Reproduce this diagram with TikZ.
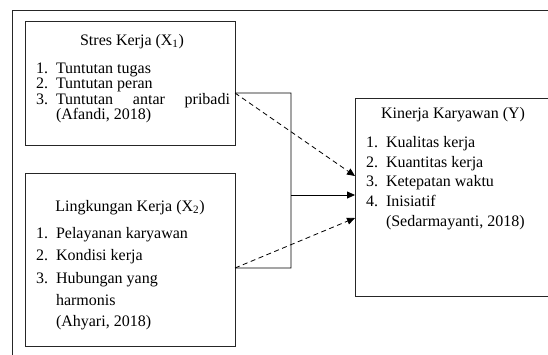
\documentclass[tikz,border=0pt]{standalone}
\usepackage{fontspec}
\setmainfont{Liberation Serif}
\usetikzlibrary{arrows.meta}
\newcommand{\myitem}[2]{\makebox[20bp][l]{#1}#2}
\begin{document}
\begin{tikzpicture}[x=1bp,y=-1bp,
  frame/.style={draw=black!85, line width=0.8bp},
  box/.style={draw=black!85, line width=0.8bp, inner sep=0, outer sep=0},
  txt/.style={inner sep=0, outer sep=0, font=\fontsize{16bp}{18bp}\selectfont, anchor=base west},
  ttl/.style={inner sep=0, outer sep=0, font=\fontsize{16bp}{18bp}\selectfont, anchor=base},
  conn/.style={line width=0.8bp, draw=black},
  arr/.style={conn, -{Triangle[length=8bp,width=7bp]}},
  dsh/.style={arr, dash pattern=on 5bp off 3.5bp}]
\useasboundingbox (0,0) rectangle (548,354);
\fill[white] (0,0) rectangle (548,354);
\draw[frame] (12,360) -- (12,10) -- (560,10);

% boxes
\node[box, minimum width=210bp, minimum height=124bp] (x1) at (130,83) {};
\node[box, minimum width=210bp, minimum height=173bp] (x2) at (130,259.5) {};
\node[box, minimum width=205bp, minimum height=198bp] (y) at (457.5,197) {};

% X1 text
\node[ttl] (x1t) at (132,45) {Stres Kerja (X\textsubscript{1})};
\node[txt] (x1a) at (36,73) {\myitem{1.}{Tuntutan tugas}};
\node[txt] (x1b) at (36,88.5) {\myitem{2.}{Tuntutan peran}};
\node[txt] (x1c) at (36,104) {\myitem{3.}{\hbox to 174bp{Tuntutan\hfill antar\hfill pribadi}}};
\node[txt] (x1d) at (56,119) {(Afandi, 2018)};

% X2 text
\node[ttl] (x2t) at (130,211) {Lingkungan Kerja (X\textsubscript{2})};
\node[txt] (x2a) at (36,238) {\myitem{1.}{Pelayanan karyawan}};
\node[txt] (x2b) at (36,260) {\myitem{2.}{Kondisi kerja}};
\node[txt] (x2c) at (36,283) {\myitem{3.}{Hubungan yang}};
\node[txt] (x2d) at (56,305) {harmonis};
\node[txt] (x2e) at (56,326) {(Ahyari, 2018)};

% Y text
\node[ttl] (yt) at (453,118) {Kinerja Karyawan (Y)};
\node[txt] (ya) at (366,147) {\myitem{1.}{Kualitas kerja}};
\node[txt] (yb) at (366,167) {\myitem{2.}{Kuantitas kerja}};
\node[txt] (yc) at (366,186) {\myitem{3.}{Ketepatan waktu}};
\node[txt] (yd) at (366,206) {\myitem{4.}{Inisiatif}};
\node[txt] (ye) at (386,226) {(Sedarmayanti, 2018)};

% connector points
\coordinate (a1) at ([yshift=-10bp]x1.east);
\coordinate (a2) at ([yshift=-8.5bp]x2.east);
\coordinate (b1) at (291,93);
\coordinate (b2) at (291,268);
\coordinate (m) at (291,195);

\draw[conn] (a1) -- (b1) -- (b2) -- (a2);
\draw[arr] (m) -- (m -| y.west);
\draw[dsh] (a1) -- ([yshift=21bp]y.west);
\draw[dsh] (a2) -- ([yshift=-21bp]y.west);
\end{tikzpicture}
\end{document}
